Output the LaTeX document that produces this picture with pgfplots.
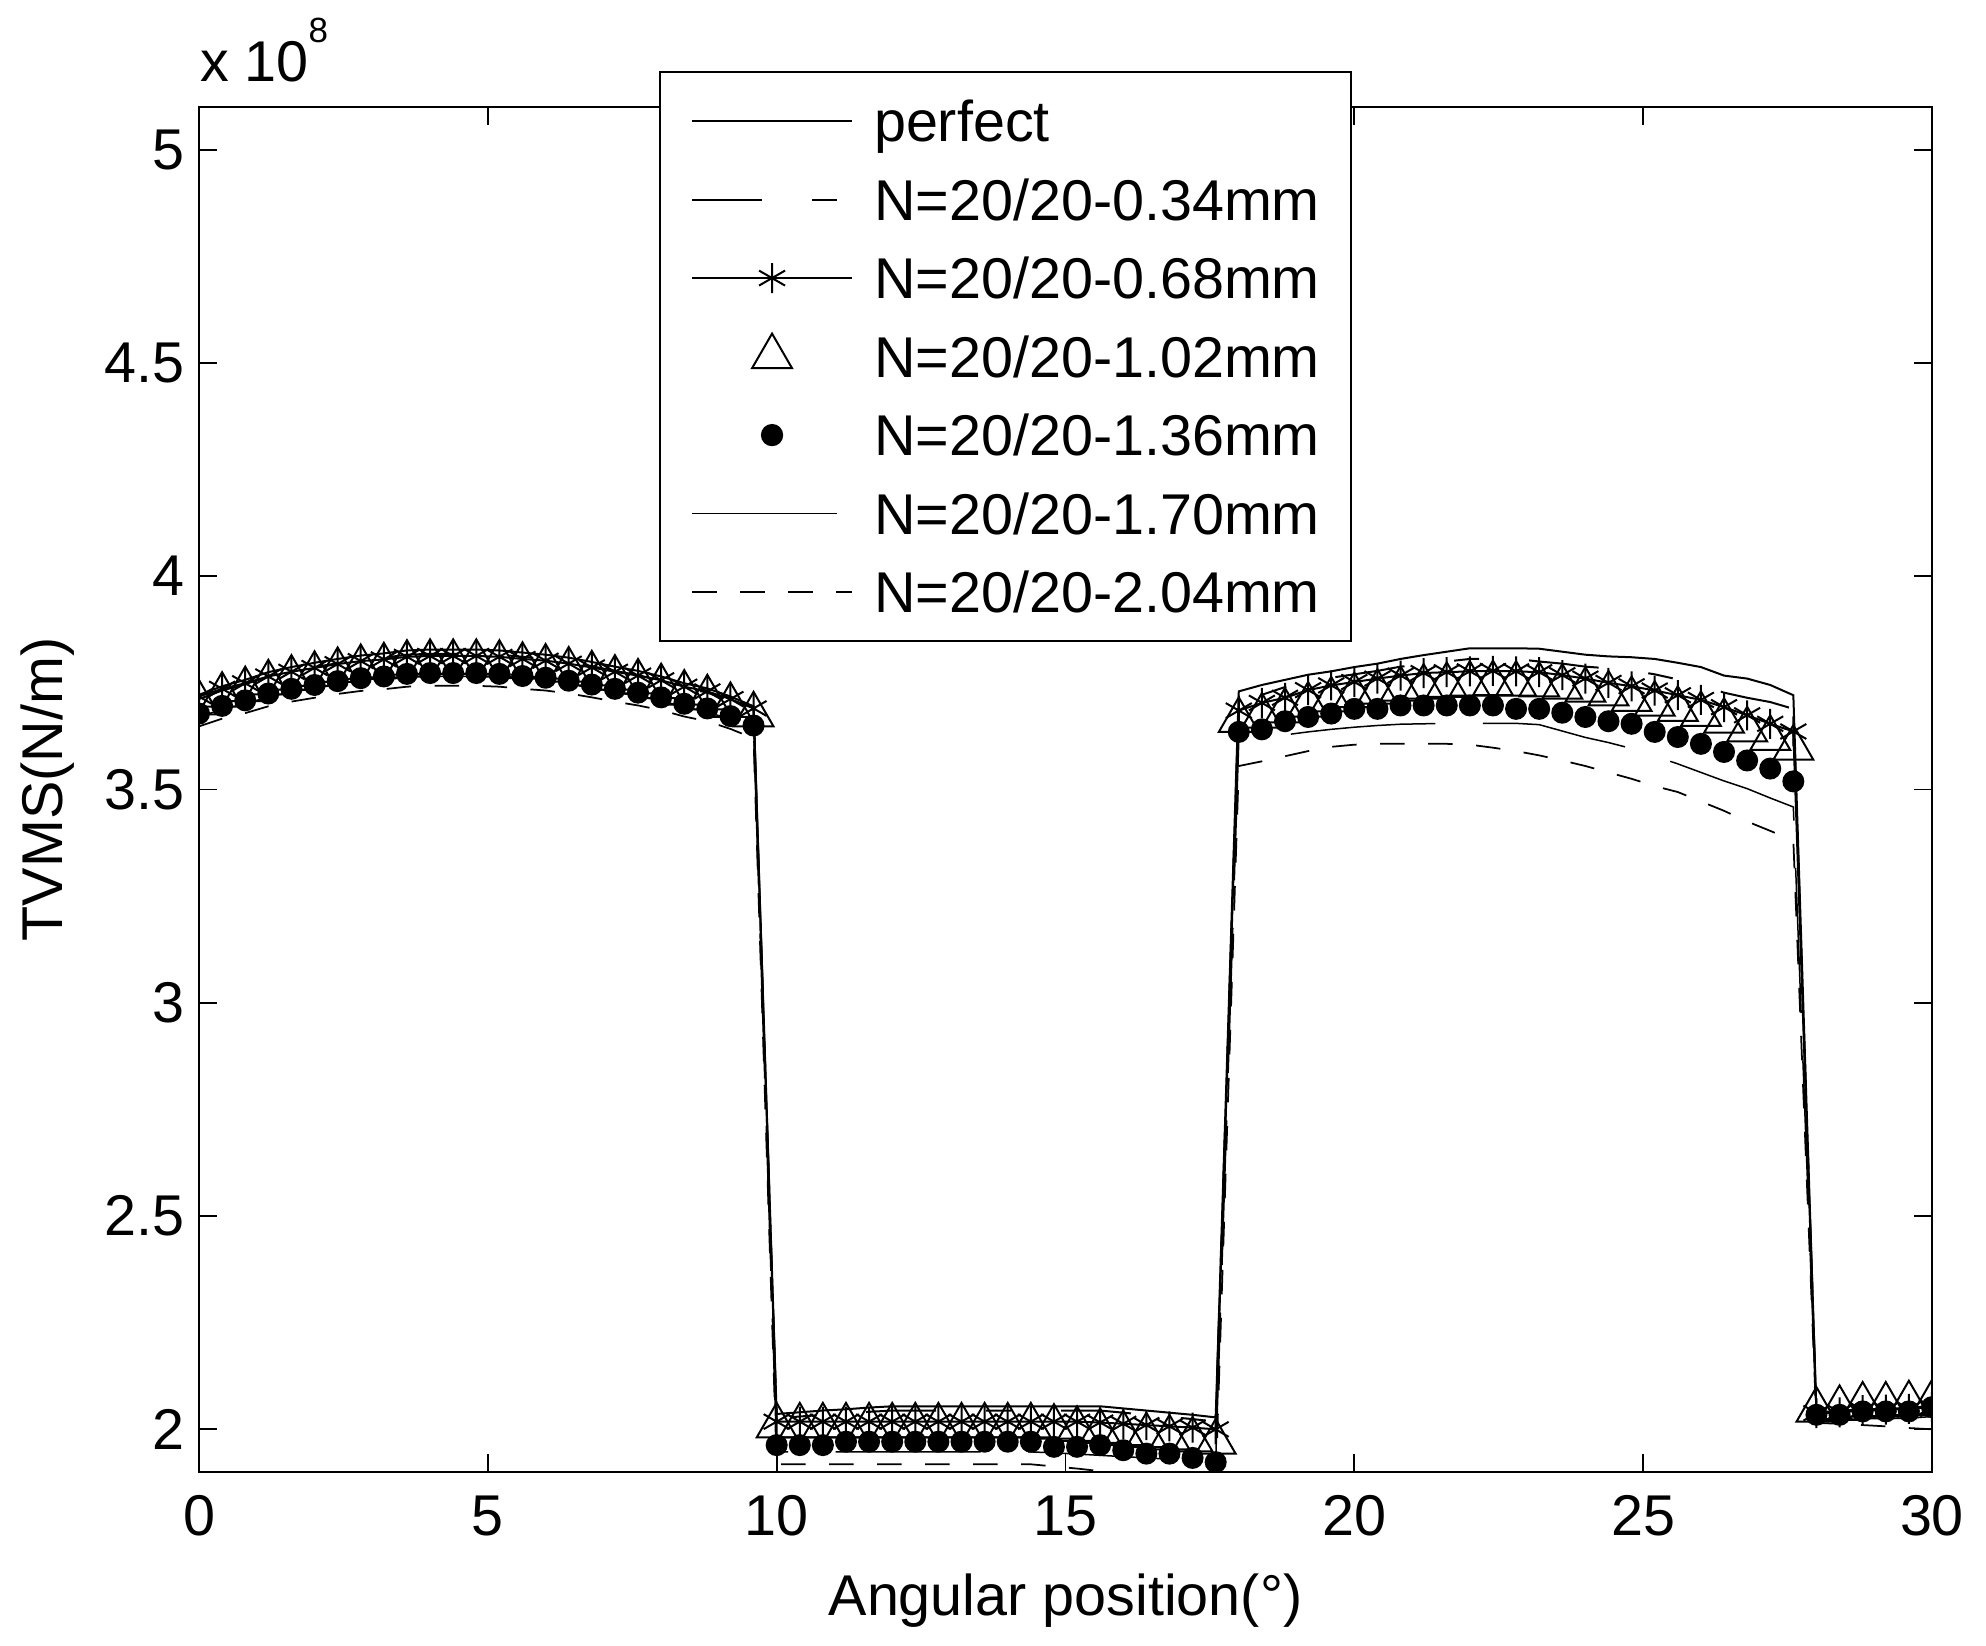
\documentclass[border=0pt]{standalone}
\usepackage{fontspec}
\setmainfont{Liberation Sans}
\usepackage{pgfplots}
\usepackage{pgfplotstable}
\pgfplotsset{compat=1.18}

% TVMS in units of 1e8 N/m
% x: angle, P: perfect, A..F: crack 0.34, 0.68, 1.02, 1.36, 1.70, 2.04 mm
\pgfplotstableread{
x    P     A     B     C     D     E     F
0.0  3.722 3.712 3.718 3.703 3.678 3.670 3.648
0.4  3.742 3.732 3.736 3.721 3.696 3.688 3.666
0.8  3.757 3.747 3.749 3.734 3.709 3.701 3.679
1.2  3.775 3.765 3.765 3.750 3.725 3.717 3.695
1.6  3.787 3.777 3.776 3.761 3.736 3.728 3.706
2.0  3.797 3.787 3.785 3.770 3.745 3.737 3.715
2.4  3.806 3.796 3.794 3.779 3.754 3.746 3.724
2.8  3.814 3.804 3.801 3.786 3.761 3.753 3.731
3.2  3.819 3.809 3.805 3.790 3.765 3.757 3.735
3.6  3.826 3.816 3.811 3.796 3.771 3.763 3.741
4.0  3.828 3.818 3.813 3.798 3.773 3.765 3.743
4.4  3.828 3.818 3.813 3.798 3.773 3.765 3.743
4.8  3.828 3.818 3.813 3.798 3.773 3.765 3.743
5.2  3.826 3.816 3.811 3.796 3.771 3.763 3.741
5.6  3.821 3.811 3.806 3.791 3.766 3.758 3.736
6.0  3.816 3.806 3.802 3.787 3.762 3.754 3.732
6.4  3.809 3.799 3.795 3.780 3.755 3.747 3.725
6.8  3.799 3.789 3.786 3.771 3.746 3.738 3.716
7.2  3.788 3.778 3.776 3.761 3.736 3.728 3.706
7.6  3.778 3.768 3.767 3.752 3.727 3.719 3.697
8.0  3.765 3.755 3.756 3.741 3.716 3.708 3.686
8.4  3.749 3.739 3.741 3.726 3.701 3.693 3.671
8.8  3.737 3.727 3.730 3.715 3.690 3.682 3.660
9.2  3.718 3.708 3.712 3.697 3.672 3.664 3.642
9.6  3.695 3.685 3.690 3.675 3.650 3.642 3.620
10.0 2.036 2.026 2.018 2.008 1.963 1.947 1.918
10.4 2.040 2.030 2.018 2.008 1.963 1.947 1.918
10.8 2.044 2.034 2.018 2.008 1.963 1.947 1.918
11.2 2.047 2.037 2.018 2.008 1.971 1.947 1.918
11.6 2.051 2.041 2.018 2.008 1.971 1.947 1.918
12.0 2.054 2.044 2.018 2.008 1.971 1.947 1.918
12.4 2.054 2.044 2.018 2.008 1.971 1.947 1.918
12.8 2.054 2.044 2.018 2.008 1.971 1.947 1.918
13.2 2.054 2.044 2.018 2.008 1.971 1.947 1.918
13.6 2.054 2.044 2.018 2.008 1.971 1.947 1.918
14.0 2.054 2.044 2.018 2.008 1.971 1.947 1.918
14.4 2.054 2.044 2.018 2.008 1.971 1.947 1.918
14.8 2.054 2.044 2.018 2.005 1.959 1.945 1.913
15.2 2.054 2.044 2.018 2.000 1.959 1.942 1.908
15.6 2.054 2.044 2.016 1.995 1.963 1.939 1.902
16.0 2.049 2.039 2.013 1.990 1.951 1.936 1.896
16.4 2.044 2.034 2.010 1.985 1.943 1.933 1.890
16.8 2.039 2.029 2.007 1.980 1.943 1.930 1.885
17.2 2.034 2.024 2.004 1.975 1.933 1.927 1.880
17.6 2.028 2.018 2.000 1.970 1.923 1.923 1.875
18.0 3.730 3.705 3.685 3.662 3.635 3.615 3.555
18.4 3.745 3.722 3.703 3.672 3.641 3.622 3.566
18.8 3.757 3.740 3.715 3.684 3.660 3.628 3.578
19.2 3.769 3.752 3.733 3.698 3.670 3.635 3.590
19.6 3.777 3.762 3.744 3.710 3.678 3.641 3.600
20.0 3.787 3.770 3.752 3.720 3.689 3.646 3.605
20.4 3.795 3.778 3.760 3.728 3.689 3.650 3.607
20.8 3.806 3.788 3.767 3.735 3.697 3.653 3.607
21.2 3.815 3.793 3.773 3.740 3.697 3.654 3.607
21.6 3.823 3.800 3.775 3.744 3.697 3.655 3.607
22.0 3.831 3.806 3.777 3.747 3.697 3.655 3.605
22.4 3.831 3.807 3.778 3.748 3.697 3.655 3.598
22.8 3.831 3.806 3.777 3.747 3.689 3.655 3.590
23.2 3.830 3.800 3.775 3.745 3.689 3.652 3.580
23.6 3.823 3.795 3.768 3.740 3.680 3.637 3.568
24.0 3.816 3.788 3.760 3.733 3.670 3.622 3.555
24.4 3.812 3.784 3.750 3.724 3.660 3.610 3.540
24.8 3.810 3.779 3.742 3.711 3.654 3.596 3.525
25.2 3.806 3.770 3.732 3.700 3.635 3.578 3.508
25.6 3.797 3.758 3.721 3.688 3.623 3.560 3.494
26.0 3.787 3.745 3.710 3.676 3.607 3.540 3.472
26.4 3.767 3.727 3.693 3.660 3.588 3.520 3.450
26.8 3.760 3.715 3.674 3.640 3.568 3.502 3.425
27.2 3.745 3.705 3.654 3.620 3.549 3.480 3.403
27.6 3.721 3.689 3.636 3.597 3.519 3.459 3.380
28.0 2.040 2.037 2.038 2.045 2.034 2.022 2.015
28.4 2.043 2.040 2.040 2.049 2.034 2.022 2.013
28.8 2.047 2.044 2.045 2.057 2.042 2.025 2.010
29.2 2.048 2.045 2.046 2.057 2.042 2.025 2.007
29.6 2.050 2.047 2.048 2.060 2.042 2.026 2.003
30.0 2.055 2.052 2.052 2.062 2.052 2.030 2.000
}\tvms

\begin{document}
\begin{tikzpicture}
\useasboundingbox (0,0) rectangle (397.2pt,329.2pt);
\begin{axis}[
    name=ax,
    at={(39.8pt,34.8pt)}, anchor=south west,
    scale only axis,
    width=346.6pt, height=273pt,
    xmin=0, xmax=30,
    ymin=1.9, ymax=5.1,
    xtick={0,5,...,30},
    ytick={2,2.5,...,5},
    tick align=inside,
    major tick length=3.6pt,
    tick style={black, line width=0.35pt},
    axis line style={line width=0.55pt},
    /pgf/number format/assume math mode=true,
    ticklabel style={font=\fontsize{11.5}{13.8}\selectfont},
    xticklabel style={yshift=-1.2pt},
    yticklabel style={xshift=0.6pt},
    every axis x label/.style={at={(axis description cs:0.5,0)}, anchor=base, yshift=-28.8pt,
        font=\fontsize{11.5}{13.8}\selectfont},
    every axis y label/.style={at={(axis description cs:-0.0785,0.5)}, rotate=90, anchor=base,
        font=\fontsize{11.5}{13.8}\selectfont},
    xlabel={Angular position(°)},
    ylabel={TVMS(N/m)},
    clip mode=individual,
    clip marker paths=true,
    legend image code/.code={\draw[mark repeat=2,mark phase=2,#1] plot coordinates {(0pt,0pt) (16pt,0pt) (32pt,0pt)};},
    legend style={
        at={(axis description cs:0.2654,1.0264)}, anchor=north west,
        draw=black, line width=0.45pt, fill=white,
        inner xsep=6.2pt, inner ysep=4.4pt,
        row sep=4.9pt, column sep=4.2pt,
        nodes={inner sep=0pt, text height=9.5pt, text depth=1.3pt},
        cells={anchor=west},
        font=\fontsize{11.5}{13.8}\selectfont,
    },
    legend cell align=left,
]
\addplot[black, line width=0.4pt] table[x=x, y=P] {\tvms};
\addlegendentry{perfect}
\addplot[black, line width=0.4pt, dash pattern=on 14pt off 10pt on 5pt off 10pt] table[x=x, y=A] {\tvms};
\addlegendentry{N=20/20-0.34mm}
\addplot[black, line width=0.4pt, mark=asterisk, mark size=3pt] table[x=x, y=B] {\tvms};
\addlegendentry{N=20/20-0.68mm}
\addplot[black, line width=0.4pt, only marks, mark=triangle, mark size=4.6pt] table[x=x, y=C] {\tvms};
\addlegendentry{N=20/20-1.02mm}
\addplot[black, only marks, mark=*, mark size=2pt] table[x=x, y=D] {\tvms};
\addlegendentry{N=20/20-1.36mm}
\addplot[black, line width=0.3pt, dash pattern=on 29pt off 9.5pt] table[x=x, y=E] {\tvms};
\addlegendentry{N=20/20-1.70mm}
\addplot[black, line width=0.35pt, dash pattern=on 4.9pt off 4.7pt] table[x=x, y=F] {\tvms};
\addlegendentry{N=20/20-2.04mm}
\end{axis}
\node[anchor=base west, inner sep=0pt, font=\fontsize{11.5}{13.8}\selectfont]
    at ([yshift=5pt]ax.north west) {x 10\raisebox{7.8pt}{\fontsize{7}{8}\selectfont 8}};
\end{tikzpicture}
\end{document}
